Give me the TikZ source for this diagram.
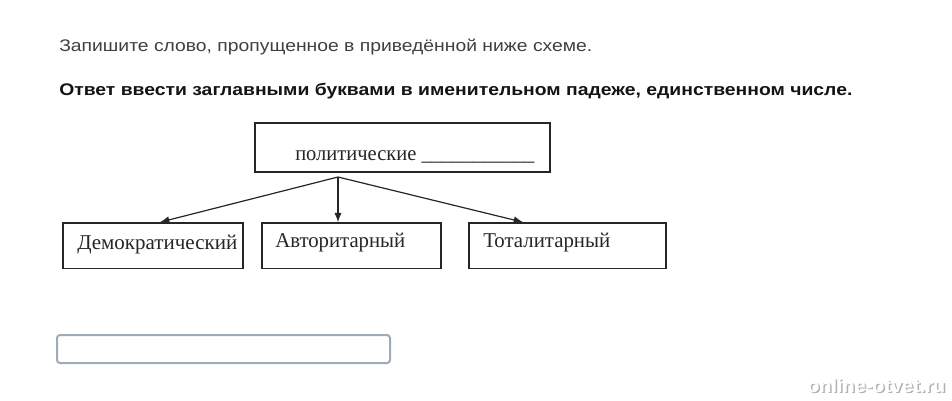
\documentclass[tikz,border=0pt]{standalone}
\usepackage{fontspec}
\setmainfont{Liberation Serif}
\newfontfamily\arialfont{Liberation Sans}
\usetikzlibrary{arrows.meta,calc}
\newcommand\fitw[2]{\resizebox{#1}{\height}{#2}}
\definecolor{inputborder}{HTML}{9EABB8}
\begin{document}
\begin{tikzpicture}[x=0.75pt,y=-0.75pt,
  boxst/.style={draw=black!85, line width=1pt, rectangle, inner sep=0pt},
  lbl/.style={inner sep=0pt, anchor=base west, font=\fontsize{15.8}{18}\selectfont, text=black!85},
  head/.style={inner sep=0pt, anchor=base west},
  conn/.style={draw=black!85, line width=0.9pt, -{Latex[length=7pt,width=5.5pt]}},
]
\useasboundingbox[fill=white] (0,0) rectangle (952,400);

% heading texts
\node[head, text=black!75, font=\arialfont\fontsize{12.6}{15}\selectfont] (q1) at (59,51)
  {\fitw{399.75pt}{Запишите слово, пропущенное в приведённой ниже схеме.}};
\node[head, text=black!92, font=\arialfont\bfseries\fontsize{12.6}{15}\selectfont] (q2) at (59,95)
  {\fitw{594.75pt}{Ответ ввести заглавными буквами в именительном падеже, единственном числе.}};

% boxes
\node[boxst, minimum width=221.25pt, minimum height=36.75pt] (top) at (402.5,147.5) {};
\node[boxst, minimum width=135pt, minimum height=34pt] (demo) at (153,245.5) {};
\node[boxst, minimum width=134.25pt, minimum height=34pt] (avt) at (351.5,245.5) {};
\node[boxst, minimum width=147.75pt, minimum height=34pt] (tot) at (567.5,245.5) {};

% labels
\node[lbl] (toplbl) at (295,160) {\fitw{179.25pt}{политические \textunderscore\textunderscore\textunderscore\textunderscore\textunderscore\textunderscore\textunderscore\textunderscore\textunderscore\textunderscore\textunderscore}};
\node[lbl] (demolbl) at (77,249) {\fitw{120pt}{Демократический}};
\node[lbl] (avtlbl) at (275,247) {\fitw{97.5pt}{Авторитарный}};
\node[lbl] (totlbl) at (483,247) {\fitw{95.25pt}{Тоталитарный}};

% connectors
\coordinate (src) at (338,177);
\draw[conn] (src) -- ($(demo.north)+(7,0)$);
\draw[conn] (src) -- ($(avt.north)+(-13.5,0)$);
\draw[conn] (src) -- ($(tot.north)+(-44.5,0)$);

% answer field
\node[draw=inputborder, line width=1.5pt, rounded corners=2.25pt, fill=white,
  minimum width=249.75pt, minimum height=21pt, inner sep=0pt] (field) at (223.5,349) {};

% watermark
\node[head, text=black!30, font=\arialfont\bfseries\fontsize{14}{16}\selectfont] (wmshadow) at (808.5,393.5)
  {\fitw{103.5pt}{online-otvet.ru}};
\node[head, text=white, font=\arialfont\bfseries\fontsize{14}{16}\selectfont] (wm) at (807,392)
  {\fitw{103.5pt}{online-otvet.ru}};
\end{tikzpicture}
\end{document}
